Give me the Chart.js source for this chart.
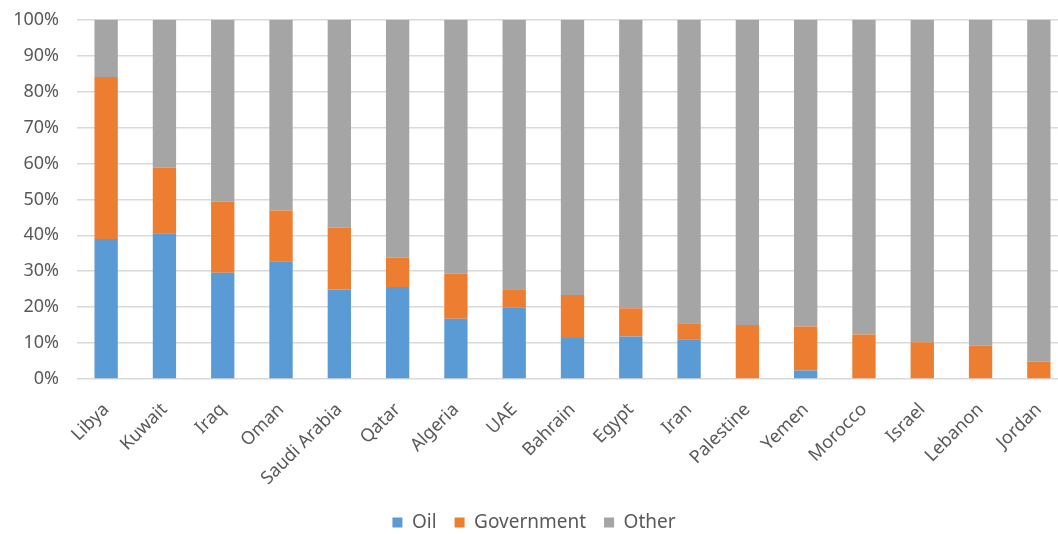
<!DOCTYPE html>
<html>
<head>
<meta charset="utf-8">
<script src="https://cdn.jsdelivr.net/npm/chart.js@4"></script>
<style>
  html, body { margin: 0; padding: 0; background: #fff; overflow: hidden; }
  #wrap { position: relative; width: 1068px; height: 551px; margin-top: -9px; }
</style>
</head>
<body>
<div id="wrap"><canvas id="chart"></canvas></div>
<script>
// Countries on the x-axis
const countries = [
  'Libya', 'Kuwait', 'Iraq', 'Oman', 'Saudi Arabia', 'Qatar', 'Algeria', 'UAE',
  'Bahrain', 'Egypt', 'Iran', 'Palestine', 'Yemen', 'Morocco', 'Israel', 'Lebanon', 'Jordan'
];

// Shares in percent
const oil = [39, 40.6, 29.6, 32.8, 24.9, 25.6, 16.8, 20, 11.4, 11.8, 11.1, 0, 2.4, 0, 0, 0, 0];
const government = [45.1, 18.2, 19.8, 14.1, 17.2, 8.2, 12.5, 5, 12, 7.9, 4.4, 15, 12.2, 12.4, 10.2, 9.3, 4.9];
const other = [15.9, 41.2, 50.6, 53.1, 57.9, 66.2, 70.7, 75, 76.6, 80.3, 84.5, 85, 85.4, 87.6, 89.8, 90.7, 95.1];

const yTicks = [0, 10, 20, 30, 40, 50, 60, 70, 80, 90, 100];

const textColor = '#595959';
const font = 'Noto Sans';

const ctx = document.getElementById('chart').getContext('2d');
new Chart(ctx, {
  type: 'bar',
  data: {
    labels: countries,
    datasets: [
      { label: 'Oil', data: oil, backgroundColor: '#5B9BD5' },
      { label: 'Government', data: government, backgroundColor: '#ED7D31' },
      { label: 'Other', data: other, backgroundColor: '#A5A5A5' }
    ]
  },
  options: {
    responsive: true,
    maintainAspectRatio: false,
    animation: false,
    datasets: {
      bar: { categoryPercentage: 1, barPercentage: 0.4 }
    },
    layout: { padding: { top: 9, right: 0, left: 0, bottom: 0 } },
    plugins: {
      tooltip: { enabled: false },
      legend: {
        position: 'bottom',
        labels: {
          boxWidth: 10,
          boxHeight: 10,
          padding: 18,
          color: textColor,
          font: { family: font, size: 19 }
        }
      }
    },
    scales: {
      x: {
        stacked: true,
        grid: { display: false },
        border: { display: false },
        ticks: {
          maxRotation: 45,
          minRotation: 45,
          padding: 12,
          color: textColor,
          font: { family: font, size: 18 }
        },
        afterFit: function(scale) { scale.height = 116; }
      },
      y: {
        stacked: true,
        min: 0,
        max: 100,
        afterBuildTicks: function(scale) {
          scale.ticks = yTicks.map(function(v) { return { value: v }; });
        },
        afterFit: function(scale) { scale.width = 77; },
        grid: { color: '#D9D9D9', lineWidth: 1.5, drawTicks: false },
        border: { display: false },
        ticks: {
          padding: 18,
          color: textColor,
          font: { family: font, size: 18 },
          callback: function(value) { return value + '%'; }
        }
      }
    }
  }
});
</script>
</body>
</html>
